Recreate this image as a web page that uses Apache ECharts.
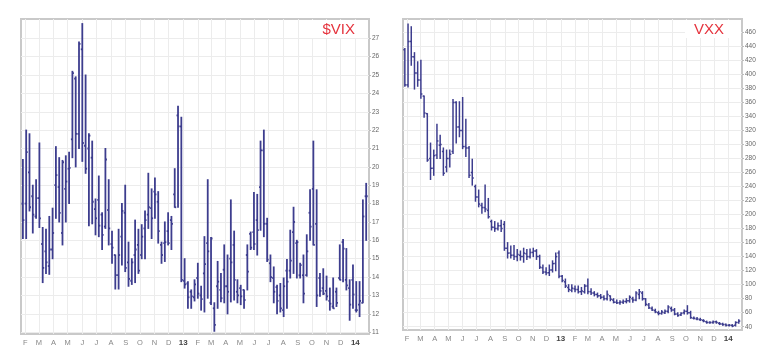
<!DOCTYPE html>
<html>
<head>
<meta charset="utf-8">
<script src="https://cdn.jsdelivr.net/npm/echarts@6/dist/echarts.min.js"></script>
<style>
  html, body { margin: 0; padding: 0; background: #fff; }
  #chart { width: 773px; height: 353px; }
</style>
</head>
<body>
<div id="chart"></div>
<script>
// weekly bars, first week ends 2012-01-27
var weekCount = 105;

// $VIX weekly OHLC
var vixOpen = [18.0,18.0,19.7,18.4,17.3,18.3,15.8,15.4,14.6,15.5,19.0,18.9,16.4,18.8,19.9,21.5,24.8,21.8,26.4,21.15,
  21.0,20.5,17.7,18.2,17.4,16.75,17.65,15.8,15.2,14.1,16.2,17.5,14.8,13.8,15.2,15.75,15.2,16.65,17.4,17.75,
  18.65,18.1,15.75,15.85,16.5,17.1,18.5,22.8,22.2,13.8,13.65,13.2,12.9,13.95,13.0,14.2,15.85,12.6,12.3,13.5,
  13.3,14.4,13.5,15.0,15.75,13.2,13.4,13.3,15.2,16.35,16.45,17.1,18.9,20.9,16.9,14.75,13.95,13.45,13.0,12.2,
  14.35,14.35,16.45,15.85,14.1,14.1,14.1,17.5,18.8,16.9,13.95,13.4,13.25,12.7,12.4,13.2,13.95,15.9,13.85,13.4,
  13.85,12.2,12.5,12.6,18.4];
var vixHigh = [20.4,22.0,21.8,19.0,19.3,21.3,16.7,16.6,17.3,17.75,21.1,20.5,20.35,20.6,20.8,25.2,24.9,26.8,27.8,25.0,
  21.8,21.4,18.25,19.5,17.5,21.0,19.3,16.5,15.2,16.6,18.0,19.0,15.9,15.0,17.1,16.6,16.85,17.6,19.65,18.8,
  19.4,18.65,15.9,17.0,17.5,17.3,19.9,23.3,22.7,15.0,13.75,13.3,13.85,14.75,13.5,16.2,19.3,16.15,12.6,14.85,
  14.2,15.75,15.2,18.2,16.5,13.85,13.55,13.3,15.75,16.45,18.6,18.5,21.4,22.0,17.2,15.2,14.55,13.55,13.65,13.95,
  14.95,16.55,17.8,16.0,14.75,15.2,16.3,18.75,21.4,18.75,14.2,14.45,14.05,13.4,13.95,13.4,15.75,16.05,15.55,13.85,
  14.65,13.75,13.75,18.2,19.1];
var vixLow = [16.1,16.1,17.6,16.4,17.2,16.7,13.7,14.2,14.15,15.0,17.2,17.0,15.75,17.0,18.0,20.5,20.0,21.0,20.3,19.65,
  16.8,16.9,16.3,16.2,15.5,16.65,15.75,14.75,13.35,13.35,14.65,14.3,13.5,13.6,13.7,14.2,15.0,15.0,16.65,16.1,
  17.2,15.85,14.75,14.85,15.75,15.5,17.8,17.8,13.75,13.4,12.3,12.3,12.7,12.85,12.2,12.1,12.85,12.5,11.05,12.3,
  12.65,12.6,12.0,12.65,12.75,12.6,12.5,12.3,13.3,15.5,15.5,15.2,16.55,16.2,14.85,13.75,12.6,12.0,12.1,11.85,
  12.3,13.95,14.2,13.95,13.95,12.6,14.05,16.0,15.75,12.4,12.95,13.05,12.75,12.2,12.3,12.4,13.85,13.75,13.3,11.65,
  12.3,12.1,11.85,12.6,16.0];
var vixClose = [17.1,20.8,17.8,17.4,18.3,17.2,14.5,14.8,15.5,16.4,19.55,17.5,20.25,19.2,19.95,25.1,21.8,26.7,21.3,19.9,
  21.7,18.1,17.2,16.8,16.3,20.4,16.65,15.6,14.1,15.2,17.6,14.5,13.9,14.8,15.5,14.35,16.2,17.1,17.8,17.2,
  18.5,16.5,15.2,15.9,15.85,16.9,17.8,22.2,13.85,13.6,12.9,12.95,13.6,13.1,12.8,14.7,15.4,16.1,11.4,13.75,
  12.85,13.5,13.2,14.8,13.85,13.0,12.95,12.75,14.3,15.6,15.8,16.55,20.9,16.9,14.95,14.0,13.2,12.7,12.3,13.5,
  13.75,14.9,17.0,15.9,14.65,13.1,15.4,16.75,15.75,13.0,13.25,13.1,12.95,12.55,12.3,12.6,13.85,15.55,13.55,12.5,
  13.05,12.2,12.7,17.3,18.4];

// VXX weekly OHLC
var vxxOpen = [435,385,447,425,402,392,369,344,280,266,285,299,290,268,280,290,360,325,320,297,
  295,260,240,225,213,210,206,190,182,180,184,186,152,145,142,140,142,140,144,140,
  146,148,140,124,118,117,121,130,145,112,104,96,92,94,93,90,90,98,90,88,
  86,84,82,80,84,78,75,74,75,76,77,80,78,86,88,80,71,66,63,60,
  59,60,62,66,64,58,57,60,62,60,52,51,50,49,47,46,46,47,45,44,
  43,42,42,42,46];
var vxxHigh = [437,472,468,431,418,420,369,344,302,292,329,313,295,292,292,364,361,361,367,336,
  297,279,242,235,216,242,223,192,190,188,192,190,160,155,156,150,148,152,150,151,
  152,150,142,128,124,128,134,145,148,113,108,100,100,98,98,96,100,108,94,90,
  88,86,84,91,84,80,78,77,78,80,84,82,90,93,90,80,73,68,65,62,
  63,64,70,68,66,60,60,64,70,62,54,53,52,50,48,47,48,48,46,45,
  44,43,43,47,50];
var vxxLow = [383,382,413,379,383,366,339,276,250,256,280,280,256,261,268,287,302,311,294,283,
  253,242,219,211,202,204,195,178,176,178,176,149,138,138,136,134,135,132,136,138,
  140,136,123,116,114,113,118,120,110,104,96,90,90,90,88,86,88,87,86,84,
  82,80,78,78,77,74,73,72,73,74,75,75,77,80,78,70,66,63,60,57,
  58,59,60,62,57,55,56,58,58,52,51,50,49,47,45,45,45,45,43,42,
  41,41,40,41,45];
var vxxClose = [385,447,425,402,392,372,345,278,266,284,305,300,259,280,286,360,325,320,297,295,
  256,252,225,215,210,208,197,182,180,184,180,152,145,142,140,143,140,145,140,146,
  148,140,125,118,117,121,130,140,112,106,98,93,95,93,90,91,98,90,88,86,
  84,82,80,86,79,75,74,75,76,77,82,78,88,90,80,72,67,64,61,59,
  61,62,68,64,58,56,59,62,60,53,52,51,50,48,46,46,47,46,44,43,
  42,42,41,46,48];

var vixTicks = [11,12,13,14,15,16,17,18,19,20,21,22,23,24,25,26,27];
var vxxTicks = [40,60,80,100,120,140,160,180,200,220,240,260,280,300,320,340,360,380,400,420,440,460];
var monthLetters = ['J','F','M','A','M','J','J','A','S','O','N','D'];

var barColor = '#3d3d8e';
var gridColor = '#ececec';

var monthTicks = [];
for (var m = 1; m <= 24; m++) monthTicks.push(new Date(2012, m, 1).getTime());

function weekDate(i) { return new Date(2012, 0, 27 + 7 * i).getTime(); }

function rows(o, h, l, c) {
  var out = [];
  for (var i = 0; i < weekCount; i++) out.push([weekDate(i), o[i], h[i], l[i], c[i]]);
  return out;
}

function ohlcBar(lw, tick) {
  return function (params, api) {
    var x = api.value(0);
    var pO = api.coord([x, api.value(1)]);
    var pH = api.coord([x, api.value(2)]);
    var pL = api.coord([x, api.value(3)]);
    var pC = api.coord([x, api.value(4)]);
    var st = { stroke: barColor, lineWidth: lw };
    return {
      type: 'group',
      children: [
        { type: 'line', shape: { x1: pH[0], y1: pH[1] - 0.5, x2: pL[0], y2: pL[1] + 0.5 }, style: st },
        { type: 'line', shape: { x1: pO[0] - tick, y1: pO[1], x2: pO[0], y2: pO[1] }, style: st },
        { type: 'line', shape: { x1: pC[0], y1: pC[1], x2: pC[0] + tick, y2: pC[1] }, style: st }
      ]
    };
  };
}

function monthLabel(v) {
  var d = new Date(v);
  var m = d.getMonth();
  if (m === 0) return '{yr|' + String(d.getFullYear()).slice(2) + '}';
  return monthLetters[m];
}

function xAxisFor(gi, minD, maxD) {
  return {
    type: 'value', gridIndex: gi,
    min: minD, max: maxD,
    axisLine: { show: false },
    axisTick: { show: false, customValues: monthTicks },
    splitLine: { show: true, lineStyle: { color: gridColor, width: 1 } },
    axisLabel: {
      customValues: monthTicks,
      formatter: monthLabel,
      color: '#888', fontSize: 7.5, fontFamily: 'Liberation Sans', margin: 5,
      rich: { yr: { fontWeight: 'bold', color: '#444', fontSize: 8, fontFamily: 'Liberation Sans' } }
    }
  };
}

function yAxisFor(gi, minV, maxV, ticks) {
  return {
    type: 'value', gridIndex: gi, position: 'right',
    min: minV, max: maxV,
    axisLine: { show: false },
    axisTick: { show: true, length: 2, customValues: ticks, lineStyle: { color: '#bbb' } },
    splitLine: { show: true, lineStyle: { color: gridColor, width: 1 } },
    axisLabel: { customValues: ticks, color: '#666', fontSize: 6.5, fontFamily: 'Liberation Sans', margin: 3 }
  };
}

var chart = echarts.init(document.getElementById('chart'));
var option = {
  backgroundColor: '#fff',
  animation: false,
  grid: [
    { left: 21, top: 19, width: 348, height: 315, show: true, borderColor: '#c9c9c9', borderWidth: 2, backgroundColor: 'transparent' },
    { left: 403, top: 19, width: 339, height: 311, show: true, borderColor: '#c9c9c9', borderWidth: 2, backgroundColor: 'transparent' }
  ],
  xAxis: [
    xAxisFor(0, new Date(2012, 0, 23).getTime(), new Date(2014, 0, 30).getTime()),
    xAxisFor(1, new Date(2012, 0, 23).getTime(), new Date(2014, 0, 31).getTime())
  ],
  yAxis: [
    yAxisFor(0, 10.9, 28.05, vixTicks),
    yAxisFor(1, 35.3, 479, vxxTicks)
  ],
  graphic: [
    { type: 'rect', z: 5, shape: { x: 312, y: 20, width: 56, height: 18 }, style: { fill: '#fff' } },
    { type: 'text', z: 6, x: 355, y: 30, style: { text: '$VIX', fill: '#e5343e', font: '15px "Liberation Sans"', textAlign: 'right', textVerticalAlign: 'middle' } },
    { type: 'rect', z: 5, shape: { x: 685, y: 20, width: 56, height: 18 }, style: { fill: '#fff' } },
    { type: 'text', z: 6, x: 724, y: 30, style: { text: 'VXX', fill: '#e5343e', font: '15px "Liberation Sans"', textAlign: 'right', textVerticalAlign: 'middle' } }
  ],
  series: [
    {
      name: '$VIX', type: 'custom', xAxisIndex: 0, yAxisIndex: 0,
      renderItem: ohlcBar(1.8, 1.5),
      encode: { x: 0, y: [1, 2, 3, 4] },
      data: rows(vixOpen, vixHigh, vixLow, vixClose)
    },
    {
      name: 'VXX', type: 'custom', xAxisIndex: 1, yAxisIndex: 1,
      renderItem: ohlcBar(1.5, 1.5),
      encode: { x: 0, y: [1, 2, 3, 4] },
      data: rows(vxxOpen, vxxHigh, vxxLow, vxxClose)
    }
  ]
};
chart.setOption(option);
</script>
</body>
</html>
